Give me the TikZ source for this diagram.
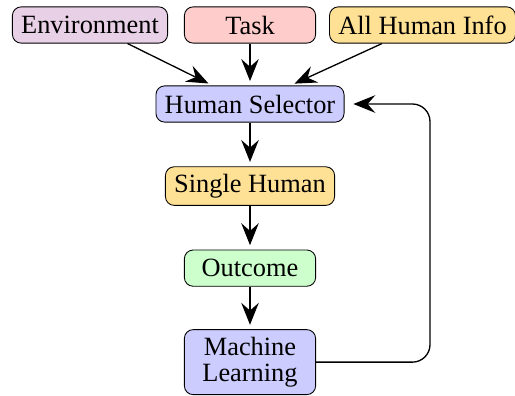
\documentclass[tikz,border=0pt]{standalone}
\usepackage{fontspec}
\setmainfont{Liberation Serif}
\usetikzlibrary{positioning,arrows.meta}
\definecolor{envcol}{HTML}{E8D0E6}
\definecolor{taskcol}{HTML}{FFCCCC}
\definecolor{infocol}{HTML}{FFE196}
\definecolor{selcol}{HTML}{CCCCFF}
\definecolor{outcol}{HTML}{CCFFCC}
\tikzset{
  box/.style={draw,rounded corners=4pt,minimum height=0.58cm,inner xsep=4pt,
    font=\fontsize{12}{12}\selectfont,align=center},
  flow/.style={-{Stealth[length=10pt,width=8pt,inset=3.5pt]},semithick,shorten >=2pt}
}
\begin{document}
\begin{tikzpicture}[node distance=0.7cm]
  \useasboundingbox (-4,0.4) rectangle (4.24,-5.92);
  \node [box,fill=taskcol,minimum width=2.1cm] (task) at (0,0) {Task};
  \node [box,fill=envcol] (env) at (-2.56,0) {Environment};
  \node [box,fill=infocol] (info) at (2.76,0) {All Human Info};
  \node [box,fill=selcol] (sel) at (0,-1.264) {Human Selector};
  \node [box,fill=infocol,below=of sel] (single) {Single Human};
  \node [box,fill=outcol,minimum width=2.1cm,below=of single] (outcome) {Outcome};
  \node [box,fill=selcol,minimum width=2.1cm,below=0.68cm of outcome] (ml) {Machine\\Learning};
  \coordinate (fb) at (2.88,0);
  \draw [flow] (env) -- (sel);
  \draw [flow] (task) -- (sel);
  \draw [flow] (info) -- (sel);
  \draw [flow] (sel) -- (single);
  \draw [flow] (single) -- (outcome);
  \draw [flow] (outcome) -- (ml);
  \draw [flow,rounded corners=8pt,shorten >=4pt] (ml.east) -- (ml.east -| fb) -- (sel.east -| fb) -- (sel.east);
\end{tikzpicture}
\end{document}
